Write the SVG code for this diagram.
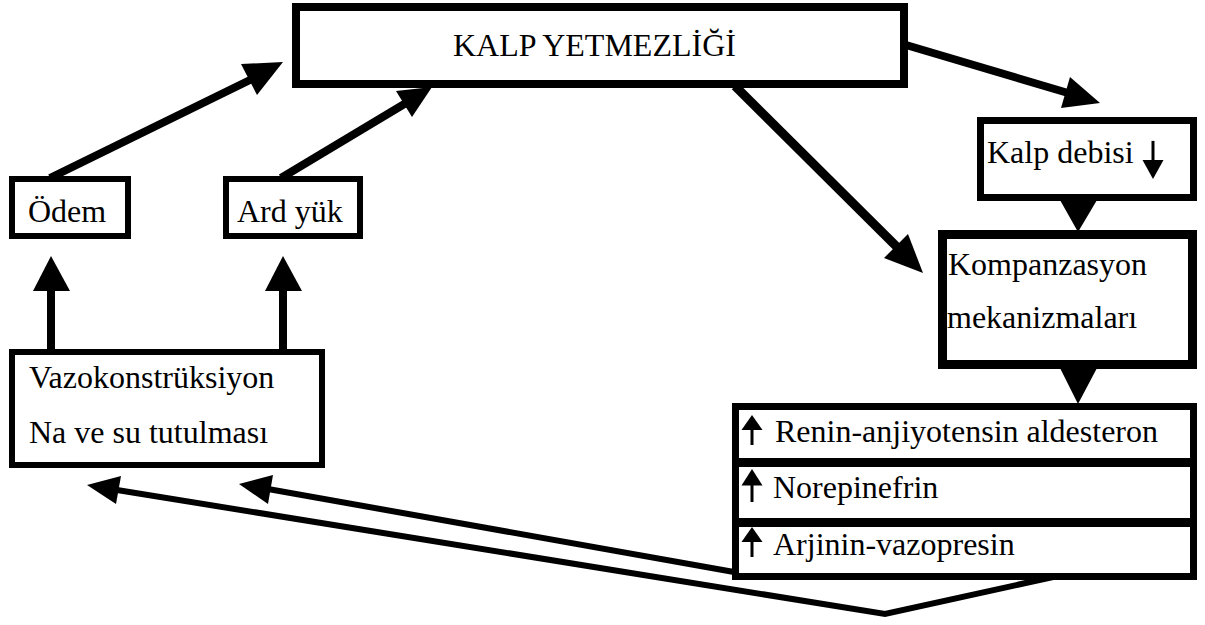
<svg xmlns="http://www.w3.org/2000/svg" width="1205" height="625" viewBox="0 0 1205 625">
<style>
.box{fill:#fff;stroke:#000;stroke-linejoin:miter}
.t{font-family:"Liberation Serif","Times New Roman",serif;font-size:32px;fill:#000}
.ln{stroke:#000;fill:none;stroke-linejoin:miter}
.hd{fill:#000;stroke:none}
</style>
<defs>
  <g id="up-sym">
    <line x1="0" y1="13" x2="0" y2="30" stroke="#000" stroke-width="3"/>
    <polygon points="0,0 -10.5,15 10.5,15" fill="#000"/>
  </g>
</defs>
<rect x="0" y="0" width="1205" height="625" fill="#fff"/>
<g id="connectors">
  <line class="ln" x1="50" y1="178" x2="252" y2="79" stroke-width="8"/>
  <polygon class="hd" points="283,62 241,64 257,95"/>
  <line class="ln" x1="281" y1="178" x2="406" y2="103" stroke-width="8"/>
  <polygon class="hd" points="432,87 396,91 412,117"/>
  <line class="ln" x1="906" y1="45" x2="1068" y2="93" stroke-width="8"/>
  <polygon class="hd" points="1100,103 1070,77 1061,108"/>
  <line class="ln" x1="735" y1="86" x2="898" y2="248" stroke-width="9"/>
  <polygon class="hd" points="923,273 884,258 908,234"/>
  <polygon class="hd" points="1060,200 1097,200 1078,232"/>
  <polygon class="hd" points="1060,368 1097,368 1078,404"/>
  <line class="ln" x1="51" y1="352" x2="51" y2="288" stroke-width="8"/>
  <polygon class="hd" points="51,256 33,291 70,291"/>
  <line class="ln" x1="283" y1="352" x2="283" y2="288" stroke-width="8"/>
  <polygon class="hd" points="283,256 265,291 302,291"/>
  <polyline class="ln" points="1053,577 885,614 117,490" stroke-width="6"/>
  <polygon class="hd" points="87,485 121,476 116,504"/>
  <line class="ln" x1="734" y1="572" x2="268" y2="489" stroke-width="6"/>
  <polygon class="hd" points="239,484 273,475 268,504"/>
</g>
<g id="kalp-yetmezligi">
  <rect class="box" x="296" y="7" width="608" height="77" stroke-width="8"/>
  <text class="t" x="453" y="56">KALP YETMEZLİĞİ</text>
</g>
<g id="odem">
  <rect class="box" x="12" y="179" width="116" height="57" stroke-width="6"/>
  <text class="t" x="28" y="222">Ödem</text>
</g>
<g id="ard-yuk">
  <rect class="box" x="226" y="179" width="134" height="57" stroke-width="6"/>
  <text class="t" x="237" y="222">Ard yük</text>
</g>
<g id="vazokonstruksiyon">
  <rect class="box" x="12" y="352" width="310" height="113" stroke-width="6"/>
  <text class="t" x="29" y="388">Vazokonstrüksiyon</text>
  <text class="t" x="29" y="443">Na ve su tutulması</text>
</g>
<g id="kalp-debisi">
  <rect class="box" x="980.5" y="120.5" width="213" height="77" stroke-width="7"/>
  <text class="t" x="987" y="163">Kalp debisi</text>
  <use href="#up-sym" transform="translate(1153,179) scale(1,-1.27)"/>
</g>
<g id="kompanzasyon">
  <rect class="box" x="942.5" y="234.5" width="250" height="130" stroke-width="9"/>
  <text class="t" x="948" y="275">Kompanzasyon</text>
  <text class="t" x="947" y="328">mekanizmaları</text>
</g>
<g id="mekanizmalar">
  <rect class="box" x="735.5" y="406.5" width="458" height="170" stroke-width="7"/>
  <line class="ln" x1="736" y1="462.5" x2="1193" y2="462.5" stroke-width="9"/>
  <line class="ln" x1="736" y1="522.5" x2="1193" y2="522.5" stroke-width="9"/>
  <use href="#up-sym" transform="translate(752,415)"/>
  <text class="t" x="775" y="442">Renin-anjiyotensin aldesteron</text>
  <use href="#up-sym" transform="translate(752,469) scale(1,1.1)"/>
  <text class="t" x="773" y="498">Norepinefrin</text>
  <use href="#up-sym" transform="translate(752,527)"/>
  <text class="t" x="773" y="555">Arjinin-vazopresin</text>
</g>
</svg>
